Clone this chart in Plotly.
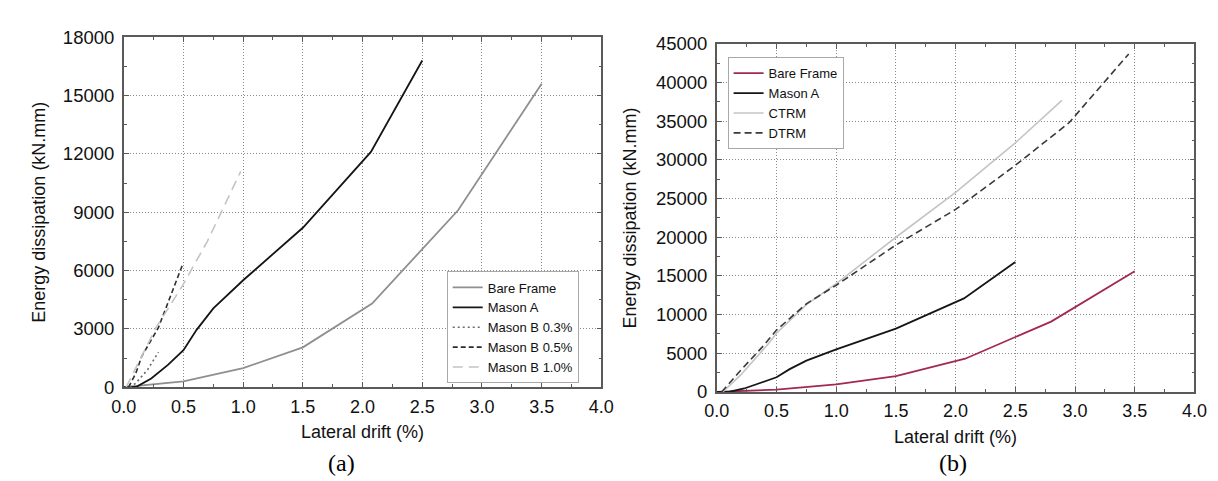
import plotly.graph_objects as go

# ---------------- data ----------------
bare_drift = [0.0, 0.5, 1.0, 1.5, 2.08, 2.5, 2.8, 3.5]
bare_energy = [0, 300, 980, 2050, 4300, 7100, 9100, 15600]

masonA_drift = [0.0, 0.11, 0.23, 0.37, 0.5, 0.61, 0.75, 1.0, 1.5, 2.07, 2.5]
masonA_energy = [0, 30, 450, 1150, 1900, 2950, 4050, 5500, 8200, 12100, 16800]

masonB03_drift = [0.05, 0.1, 0.2, 0.29]
masonB03_energy = [0, 200, 900, 1800]

masonB05_drift = [0.04, 0.1, 0.15, 0.29, 0.49]
masonB05_energy = [0, 700, 1580, 3060, 6260]

masonB10_drift = [0.02, 0.27, 0.49, 0.7, 0.98]
masonB10_energy = [0, 3060, 5200, 7500, 11100]

ctrm_drift = [0.05, 0.2, 0.43, 0.5, 0.75, 1.0, 1.5, 2.0, 2.5, 2.89]
ctrm_energy = [0, 2200, 6200, 7600, 11300, 14000, 20000, 25800, 32200, 37700]

dtrm_drift = [0.04, 0.2, 0.38, 0.5, 0.75, 1.0, 1.5, 2.0, 2.5, 2.95, 3.45]
dtrm_energy = [0, 2800, 5800, 8000, 11400, 13800, 19000, 23600, 29300, 34800, 43700]

x_ticks = [0.0, 0.5, 1.0, 1.5, 2.0, 2.5, 3.0, 3.5, 4.0]
x_ticklabels = ["0.0", "0.5", "1.0", "1.5", "2.0", "2.5", "3.0", "3.5", "4.0"]
y_ticks_a = [0, 3000, 6000, 9000, 12000, 15000, 18000]
y_ticks_b = [0, 5000, 10000, 15000, 20000, 25000, 30000, 35000, 40000, 45000]

W, H = 1218, 481
FONT = "Liberation Sans, Arial, sans-serif"
SERIF = "Liberation Serif, Times New Roman, serif"
AXC = "#5a5a5a"
TXT = "#111111"
GRID = "#8a8a8a"

fig = go.Figure()

def add(x, y, name, color, dash, width, xa, ya, legend):
    fig.add_trace(go.Scatter(x=x, y=y, name=name, mode="lines",
                             line=dict(color=color, dash=dash, width=width),
                             xaxis=xa, yaxis=ya, legend=legend))

# (a)
add(bare_drift, bare_energy, "Bare Frame", "#8f8f8f", "solid", 1.8, "x", "y", "legend")
add(masonA_drift, masonA_energy, "Mason A", "#151515", "solid", 1.8, "x", "y", "legend")
add(masonB03_drift, masonB03_energy, "Mason B 0.3%", "#6a6a6a", "2px,3px", 1.6, "x", "y", "legend")
add(masonB05_drift, masonB05_energy, "Mason B 0.5%", "#2e2e2e", "5px,3px", 1.6, "x", "y", "legend")
add(masonB10_drift, masonB10_energy, "Mason B 1.0%", "#c4c4c4", "10px,6px", 1.6, "x", "y", "legend")
# (b)
add(bare_drift, bare_energy, "Bare Frame", "#a3294f", "solid", 1.8, "x2", "y2", "legend2")
add(masonA_drift, masonA_energy, "Mason A", "#151515", "solid", 1.8, "x2", "y2", "legend2")
add(ctrm_drift, ctrm_energy, "CTRM", "#c4c4c4", "solid", 1.6, "x2", "y2", "legend2")
add(dtrm_drift, dtrm_energy, "DTRM", "#3a3a3a", "7px,4px", 1.6, "x2", "y2", "legend2")

def xaxis(domain, anchor):
    return dict(domain=domain, anchor=anchor, range=[0, 4.0],
                tickvals=x_ticks, ticktext=x_ticklabels,
                ticks="inside", ticklen=5, tickwidth=1.2, tickcolor=AXC,
                minor=dict(dtick=0.25, ticks="inside", ticklen=3, tickcolor=AXC, showgrid=False),
                showline=True, linecolor=AXC, linewidth=1.5, mirror="allticks",
                showgrid=True, gridcolor=GRID, griddash="1px,2px", gridwidth=1,
                zeroline=False, tickfont=dict(family=FONT, size=18, color=TXT),
                ticklabelstandoff=2,
                title=dict(text="Lateral drift (%)", font=dict(family=FONT, size=18, color=TXT), standoff=10))

def yaxis(domain, anchor, rng, ticks, minor, standoff):
    return dict(domain=domain, anchor=anchor, range=rng, tickvals=ticks, tickformat="d",
                ticks="inside", ticklen=5, tickwidth=1.2, tickcolor=AXC,
                minor=dict(dtick=minor, ticks="inside", ticklen=3, tickcolor=AXC, showgrid=False),
                showline=True, linecolor=AXC, linewidth=1.5, mirror="allticks",
                showgrid=True, gridcolor=GRID, griddash="1px,2px", gridwidth=1,
                zeroline=False, tickfont=dict(family=FONT, size=18.5, color=TXT),
                ticklabelstandoff=4,
                title=dict(text="Energy dissipation (kN.mm)", font=dict(family=FONT, size=18, color=TXT), standoff=standoff))

legend_style = dict(xanchor="left", yanchor="top", bordercolor="#a8a8a8", borderwidth=1,
                    bgcolor="white", font=dict(family=FONT, size=13, color=TXT),
                    tracegroupgap=0, itemwidth=30)

fig.update_layout(
    width=W, height=H, margin=dict(l=0, r=0, t=0, b=0),
    paper_bgcolor="white", plot_bgcolor="white", showlegend=True,
    xaxis=xaxis([105 / W, 593 / W], "y"),
    yaxis=yaxis([1 - 385 / H, 1 - 19 / H], "x", [0, 18000], y_ticks_a, 1500, 13),
    xaxis2=xaxis([711 / W, 1199 / W], "y2"),
    yaxis2=yaxis([1 - 390 / H, 1 - 26 / H], "x2", [0, 45000], y_ticks_b, 2500, 15),
    legend=dict(x=435 / W, y=1 - 264 / H, **legend_style),
    legend2=dict(x=722 / W, y=1 - 40 / H, **legend_style),
    annotations=[
        dict(text="(a)", x=327 / W, y=1 - 464 / H, xref="paper", yref="paper",
             xanchor="center", yanchor="middle",
             showarrow=False, font=dict(family=SERIF, size=24, color="#000")),
        dict(text="(b)", x=952 / W, y=1 - 464 / H, xref="paper", yref="paper",
             xanchor="center", yanchor="middle",
             showarrow=False, font=dict(family=SERIF, size=24, color="#000")),
    ],
)

fig.write_html("out.html")
